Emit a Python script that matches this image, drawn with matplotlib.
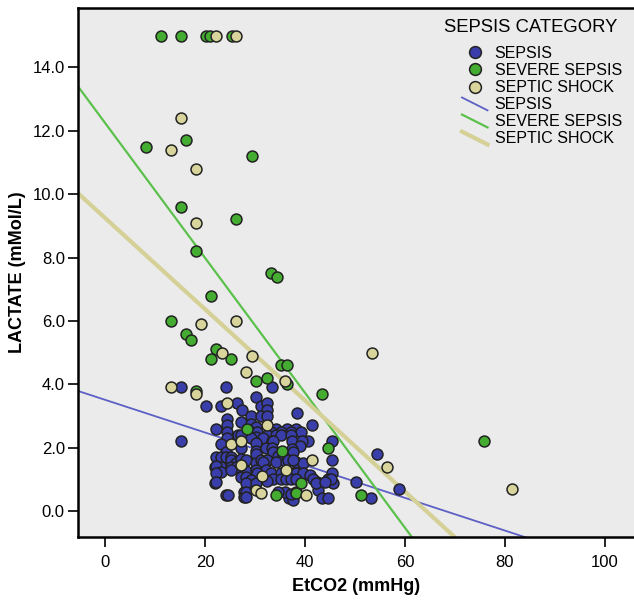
import numpy as np
import matplotlib.pyplot as plt
from matplotlib.lines import Line2D
from matplotlib.legend_handler import HandlerBase

plt.rcParams['font.family'] = ['Liberation Sans', 'DejaVu Sans']

# EtCO2 (mmHg), LACTATE (mMol/L)
sepsis_x = [15.3, 15.3, 22.0, 24.3, 33.5, 24.3, 30.3, 38.5, 41.5, 45.5, 40.7, 54.5, 45.5, 45.5,
            44.6, 45.7, 42.5, 42.7, 50.3, 58.9, 53.3, 43.5, 44.6, 36.9, 37.7, 36.0, 27.9, 27.9,
            20.3, 23.3, 26.5, 27.5, 31.3, 32.4, 32.4,
            29.3, 31.3, 32.4, 24.4,
            27.2, 29.3, 24.4, 22.3, 30.3, 34.3, 36.5, 38.3,
            24.4, 29.3, 30.5, 33.3, 35.3, 37.3, 39.3,
            26.7, 27.3, 30.3, 32.5, 34.3, 35.3, 37.3, 24.4, 29.3, 31.7,
            23.3, 27.3, 30.3, 33.5, 33.7, 37.5, 39.5, 39.0,
            30.3, 32.3, 33.5, 37.5, 33.7, 37.7, 24.3,
            22.3, 23.3, 24.3, 25.3, 30.3, 34.7, 35.7,
            25.3, 26.3, 27.3, 28.3, 30.3, 31.3, 32.5, 31.7, 34.3, 36.3, 38.3, 39.7, 36.7, 37.7,
            22.0, 23.3, 25.3, 26.3, 22.3,
            23.3, 22.3, 25.3, 28.3, 30.3, 32.3, 30.5, 33.3, 35.3, 37.7, 38.3, 39.7, 41.0,
            27.3, 28.3, 29.3, 33.7, 35.3, 36.3, 37.3, 38.3, 41.7, 45.3, 22.3,
            28.3, 30.3, 32.5, 42.3, 44.0,
            28.3, 34.7, 37.3, 38.3,
            24.7, 28.3]
sepsis_y = [3.9, 2.2, 0.87, 0.5, 3.9, 3.9, 3.6, 3.1, 2.7, 2.2, 2.2, 1.8, 1.6, 1.2,
            1.0, 0.87, 0.9, 0.66, 0.9, 0.7, 0.4, 0.4, 0.4, 0.4, 0.35, 0.6, 0.6, 0.45,
            3.3, 3.3, 3.4, 3.2, 3.3, 3.4, 3.2,
            3.0, 3.0, 3.0, 2.9,
            2.8, 2.75, 2.7, 2.6, 2.65, 2.6, 2.6, 2.6,
            2.5, 2.5, 2.5, 2.5, 2.5, 2.5, 2.5,
            2.4, 2.4, 2.35, 2.4, 2.4, 2.4, 2.4, 2.3, 2.3, 2.3,
            2.1, 2.0, 2.15, 2.2, 2.2, 2.2, 2.2, 2.05,
            1.9, 2.0, 2.0, 1.95, 1.87, 1.87, 1.87,
            1.7, 1.7, 1.7, 1.7, 1.8, 1.75, 1.75,
            1.6, 1.5, 1.65, 1.6, 1.5, 1.6, 1.6, 1.55, 1.55, 1.55, 1.55, 1.5, 1.6, 1.6,
            1.4, 1.4, 1.4, 1.4, 1.42,
            1.24, 1.19, 1.29, 1.25, 1.3, 1.3, 1.2, 1.2, 1.2, 1.2, 1.2, 1.2, 1.15,
            1.08, 1.08, 0.98, 1.0, 1.0, 1.0, 1.0, 1.0, 1.0, 1.0, 0.92,
            0.89, 0.89, 0.95, 0.87, 0.9,
            0.61, 0.6, 0.55, 0.6,
            0.5, 0.45]

severe_x = [11.3, 15.3, 20.2, 21.0, 25.4, 8.3, 16.3, 29.5, 15.3, 26.3, 18.3, 33.3, 34.5, 21.3,
            13.3, 16.3, 17.3, 22.3, 21.3, 25.3, 35.3, 36.5, 30.3, 32.5, 36.5, 43.5, 18.3, 28.5,
            35.5, 44.6, 75.8, 39.3, 38.2, 34.2, 51.3]
severe_y = [15.0, 15.0, 15.0, 15.0, 15.0, 11.5, 11.7, 11.2, 9.6, 9.2, 8.2, 7.5, 7.4, 6.8,
            6.0, 5.6, 5.4, 5.1, 4.8, 4.8, 4.6, 4.6, 4.1, 4.2, 4.0, 3.7, 3.8, 2.6,
            1.9, 2.0, 2.2, 0.88, 0.58, 0.52, 0.5]

shock_x = [22.3, 26.3, 15.3, 13.3, 18.3, 18.3, 19.3, 26.3, 23.5, 29.5, 28.3, 36.0, 53.5, 13.3,
           18.3, 24.4, 32.4, 25.3, 27.3, 41.4, 27.3, 36.3, 31.4, 56.5, 30.2, 31.2, 40.2, 81.5]
shock_y = [15.0, 15.0, 12.4, 11.4, 10.8, 9.1, 5.9, 6.0, 5.0, 4.9, 4.4, 4.1, 5.0, 3.9,
           3.7, 3.4, 2.7, 2.1, 2.2, 1.6, 1.45, 1.3, 1.1, 1.4, 0.65, 0.58, 0.5, 0.7]

# fit lines (intercept, slope) per category
fit_sepsis = (3.51, -0.0516)
fit_severe = (12.25, -0.213)
fit_shock = (9.25, -0.144)

labels = ['SEPSIS', 'SEVERE SEPSIS', 'SEPTIC SHOCK']
marker_colors = ['#3a3eab', '#44ad31', '#d8d49c']
line_colors = ['#5c60c4', '#5cc14c', '#d4d096']
line_widths = [1.3, 1.6, 3.0]


class DiagLineHandler(HandlerBase):
    """SPSS style legend line: short slanted stroke"""
    def create_artists(self, legend, orig_handle, xdescent, ydescent, width, height, fontsize, trans):
        ln = Line2D([-xdescent, -xdescent + width],
                    [-ydescent + height * 1.05, -ydescent - height * 0.1])
        self.update_prop(ln, orig_handle, legend)
        ln.set_transform(trans)
        return [ln]


fig = plt.figure(figsize=(6.34, 6.01), dpi=100)
ax = fig.add_axes([0.123, 0.1065, 0.877, 0.880])
ax.set_facecolor('#ebebeb')

xmin, xmax = -5.4, 105.8
ax.set_xlim(xmin, xmax)
ax.set_ylim(-0.82, 15.87)

for (xs, ys), col in zip([(sepsis_x, sepsis_y), (severe_x, severe_y), (shock_x, shock_y)],
                         marker_colors):
    ax.scatter(xs, ys, s=62, c=col, edgecolors='#222222', linewidths=1.1, zorder=3)

xx = np.array([xmin, xmax])
for (b0, b1), col, lw in zip([fit_sepsis, fit_severe, fit_shock], line_colors, line_widths):
    ax.plot(xx, b0 + b1 * xx, color=col, lw=lw, zorder=2)

ax.set_xticks([0, 20, 40, 60, 80, 100])
ax.set_yticks(np.arange(0, 15, 2))
ax.set_yticklabels([f'{v:.1f}' for v in np.arange(0, 15, 2)])
ax.tick_params(direction='out', length=7, width=1.2, labelsize=12, pad=2.5)
ax.tick_params(axis='x', pad=6)

for side in ['top', 'left', 'bottom']:
    ax.spines[side].set_linewidth(1.8)
ax.spines['right'].set_visible(False)

ax.set_xlabel('EtCO2 (mmHg)', fontsize=13, fontweight='bold')
ax.set_ylabel('LACTATE (mMol/L)', fontsize=13, fontweight='bold')
ax.xaxis.set_label_coords(0.5, -0.077)
ax.yaxis.set_label_coords(-0.094, 0.5)

handles = []
for lab, col in zip(labels, marker_colors):
    handles.append(Line2D([], [], marker='o', ls='none', markersize=8.5, markerfacecolor=col,
                          markeredgecolor='#222222', markeredgewidth=1.1, label=lab))
line_handles = []
for lab, col, lw in zip(labels, line_colors, line_widths):
    line_handles.append(Line2D([], [], color=col, lw=lw, label=lab))

fig.text(444 / 634, 1 - 28 / 601, 'SEPSIS CATEGORY', fontsize=13.3, ha='left', va='center')
leg = ax.legend(handles=handles + line_handles, loc='upper left',
                bbox_to_anchor=(462 / 634, 1 - 46 / 601), bbox_transform=fig.transFigure,
                frameon=False, fontsize=11.5, handlelength=1.6, handletextpad=0.45,
                labelspacing=0.13, borderpad=0, borderaxespad=0,
                handler_map={h: DiagLineHandler() for h in line_handles})

fig.savefig('out.png', dpi=100)
